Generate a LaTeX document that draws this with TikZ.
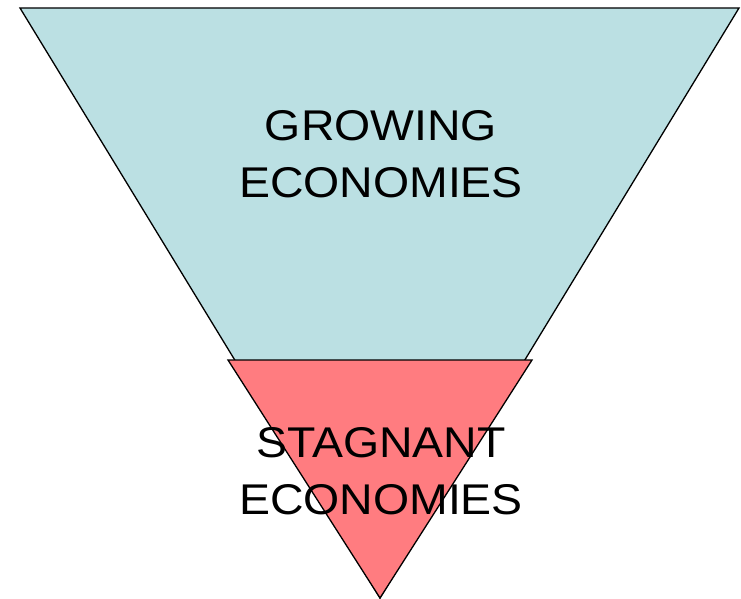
\documentclass[tikz,border=0pt]{standalone}
\usepackage{fontspec}
\newfontfamily\labelfont[FakeStretch=1.08]{Liberation Sans}
\definecolor{growcol}{HTML}{BBE0E3}
\definecolor{stagcol}{HTML}{FF7C80}

\begin{document}
\begin{tikzpicture}[x=1pt, y=-1pt,
    band/.style={draw=black, line width=1.3pt},
    bandtext/.style={align=center, inner sep=0pt, font=\labelfont\fontsize{43}{57}\selectfont}]
  \useasboundingbox (0,0) rectangle (741,599);

  \filldraw[band, fill=growcol] (20,8) -- (739,8) -- (380,598) -- cycle;
  \filldraw[band, fill=stagcol] (228,360) -- (532,360) -- (380,598) -- cycle;

  \node[bandtext] (growing) at (381,154) {GROWING\\ECONOMIES};
  \node[bandtext] (stagnant) at (381,471) {STAGNANT\\ECONOMIES};
\end{tikzpicture}
\end{document}
